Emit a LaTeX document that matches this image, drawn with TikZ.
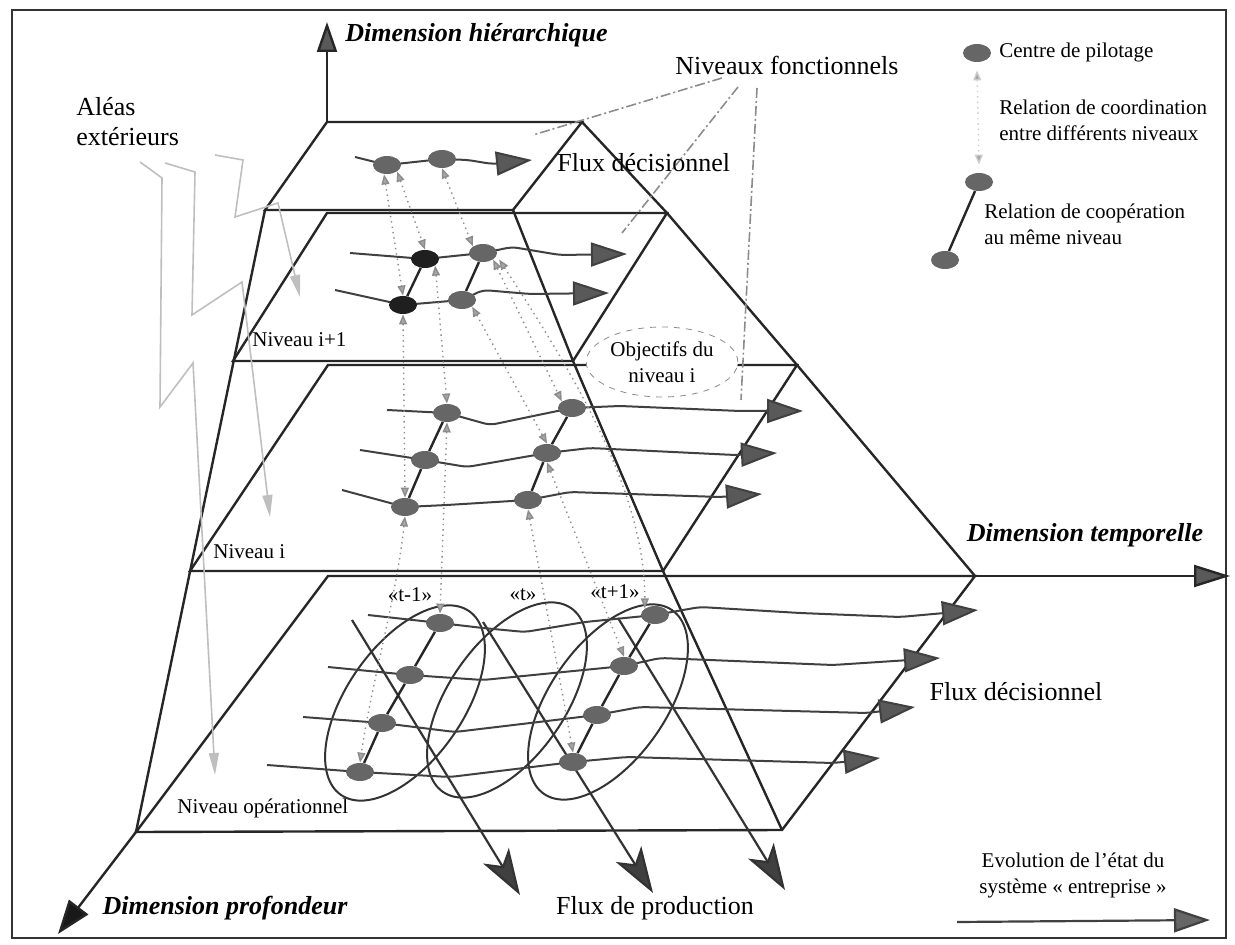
\documentclass[tikz,border=0pt]{standalone}
\usepackage{fontspec}
\setmainfont{Liberation Serif}
\usetikzlibrary{arrows.meta,shapes.geometric,backgrounds}

\begin{document}
\begin{tikzpicture}[x=0.5pt,y=-0.5pt,
  plane/.style={draw=black!85,line width=1.2pt},
  flux/.style={draw=black!75,line width=1pt,rounded corners=3pt,-{Triangle[length=18pt,width=12pt,fill=black!65]}},
  prod/.style={draw=black!80,line width=1.1pt,-{Stealth[length=23pt,width=15pt,inset=6pt,fill=black!75]}},
  pilot/.style={ellipse,fill=black!60,minimum width=14pt,minimum height=9pt,inner sep=0pt},
  pilotdark/.style={pilot,fill=black!88},
  coop/.style={draw=black!85,line width=1.2pt},
  coordrel/.style={draw=black!45,line width=0.7pt,dotted,
    {Triangle[length=5pt,width=4pt,fill=black!35]}-{Triangle[length=5pt,width=4pt,fill=black!35]}},
  alea/.style={draw=black!25,line width=0.8pt,-{Triangle[length=11pt,width=5pt,fill=black!25]}},
  pointer/.style={draw=black!45,line width=0.8pt,dash pattern=on 5pt off 1.5pt on 1pt off 1.5pt},
  lbl/.style={font=\fontsize{13}{15}\selectfont,inner sep=1pt},
  dimlbl/.style={font=\fontsize{13}{15}\selectfont\bfseries\itshape,inner sep=1pt},
  small/.style={font=\fontsize{10.5}{13}\selectfont,inner sep=1pt}]
\useasboundingbox (0,0) rectangle (1235,945);

% centres de pilotage
\foreach \n/\p in {A1/{387,165},A2/{442,159},B2/{483,253},B4/{462,300},
    C1/{447,413},C2/{572,408},C3/{425,460},C4/{547,453},C5/{405,507},C6/{528,500},
    D1/{440,623},D2/{655,615},D3/{410,675},D4/{624,666},
    D5/{382,723},D6/{597,715},D7/{360,772},D8/{573,762}}
  \node[pilot] (\n) at (\p) {};
\foreach \n/\p in {B1/{425,259},B3/{403,305}}
  \node[pilotdark] (\n) at (\p) {};

% ends of the flows
\foreach \n/\p in {a0/{355,157},a9/{532,160},b0/{350,253},b9/{627,254},
    bb0/{335,290},bb9/{609,293},c10/{387,410},c19/{803,411},c20/{360,450},c29/{777,453},
    c30/{342,490},c39/{762,494},d10/{368,615},d19/{978,610},d20/{328,667},d29/{940,658},
    d30/{303,717},d39/{915,707},d40/{267,765},d49/{880,758},
    p1s/{352,620},p1e/{520,895},p2s/{483,622},p2e/{653,893},p3s/{618,618},p3e/{785,890},
    ea1/{140,162},ez1/{215,775},ea2/{165,163},ez2/{270,517},ea3/{215,155},ez3/{300,297},
    nf1/{722,78},nt1/{533,135},nf2/{738,87},nt2/{622,233},nf3/{757,88},nt3/{741,400},
    ev0/{957,922},ev9/{1210,920}}
  \coordinate (\n) at (\p);

% labels
\node[dimlbl,anchor=west] (dh) at (343,35) {Dimension hiérarchique};
\node[dimlbl] (dt) at (1085,535) {Dimension temporelle};
\node[dimlbl] (dp) at (225,908) {Dimension profondeur};
\node[lbl] (nf) at (787,65) {Niveaux fonctionnels};
\node[lbl,anchor=west] (fd1) at (555,163) {Flux décisionnel};
\node[lbl] (fd2) at (1016,692) {Flux décisionnel};
\node[lbl] (fp) at (655,908) {Flux de production};
\node[lbl,anchor=west,align=left] (al) at (74,122) {Aléas\\extérieurs};
\node[small,anchor=west] (ni1) at (250,340) {Niveau i+1};
\node[small,anchor=west] (ni) at (211,552) {Niveau i};
\node[small,anchor=west] (nop) at (175,808) {Niveau opérationnel};
\node[small] (tm) at (410,595) {«t-1»};
\node[small] (t0) at (523,595) {«t»};
\node[small] (tp) at (615,592) {«t+1»};
\node[small,ellipse,draw=black!45,dashed,fill=white,align=center,
  minimum width=70pt,minimum height=35pt] (obj) at (662,362) {Objectifs du\\niveau i};

% legend
\node[pilot] (L1) at (977,53) {};
\node[small,anchor=west] (lg1) at (997,52) {Centre de pilotage};
\node[small,anchor=west,align=left] (lg2) at (997,120) {Relation de coordination\\entre différents niveaux};
\node[pilot] (L2) at (979,182) {};
\node[pilot] (L3) at (945,260) {};
\node[small,anchor=west,align=left] (lg3) at (982,224) {Relation de coopération\\au même niveau};
\node[small,align=center] (ev) at (1073,875) {Evolution de l’état du\\système « entreprise »};

\begin{pgfonlayer}{background}
\draw[black!80,line width=0.8pt] (12,10) rectangle (1226,938);
% the four levels
\draw[plane] (327,122) -- (582,122) -- (513,210) -- (265,210) -- cycle;
\draw[plane] (327,213) -- (667,213) -- (573,361) -- (233,361) -- cycle;
\draw[plane] (328,365) -- (797,365) -- (663,571) -- (190,571) -- cycle;
\draw[plane] (328,576) -- (975,576) -- (782,830) -- (136,832) -- cycle;
\draw[plane] (265,210) -- (136,832);
\draw[plane] (582,122) -- (667,213) -- (797,365) -- (975,576);
\draw[plane] (513,210) -- (573,361) -- (663,571) -- (782,830);
% axes
\draw[plane,-{Triangle[length=15pt,width=10pt,fill=black!65]}] (327,122) -- (327,22);
\draw[plane,-{Triangle[length=18pt,width=11pt,fill=black!65]}] (975,576) -- (1230,576);
\draw[plane,-{Triangle[length=17pt,width=12pt,fill=black!90]}] (136,832) -- (58,934);
% time windows
\foreach \c in {{405,703},{507,700},{608,702}}
  \draw[black!80,line width=1pt,rotate around={55:(\c)}] (\c) ellipse [x radius=112,y radius=58];
% production flows
\draw[prod] (p1s) -- (p1e);
\draw[prod] (p2s) -- (p2e);
\draw[prod] (p3s) -- (p3e);
% decision flows
\draw[flux] (a0) -- (A1.center) -- (A2.center) -- (468,160) -- (492,164) -- (a9);
\draw[flux] (b0) -- (B1.center) -- (B2.center) -- (512,247) -- (560,255) -- (b9);
\draw[flux] (bb0) -- (B3.center) -- (B4.center) -- (483,290) -- (530,294) -- (bb9);
\draw[flux] (c10) -- (C1.center) -- (490,425) -- (C2.center) -- (620,406) -- (740,411) -- (c19);
\draw[flux] (c20) -- (C3.center) -- (467,467) -- (C4.center) -- (590,448) -- (735,455) -- (c29);
\draw[flux] (c30) -- (C5.center) -- (447,505) -- (C6.center) -- (570,492) -- (720,497) -- (c39);
\draw[flux] (d10) -- (D1.center) -- (483,628) -- (525,632) -- (585,622) -- (D2.center) -- (700,607) -- (800,613) -- (900,617) -- (d19);
\draw[flux] (d20) -- (D3.center) -- (483,680) -- (D4.center) -- (660,658) -- (833,665) -- (d29);
\draw[flux] (d30) -- (D5.center) -- (455,732) -- (D6.center) -- (640,707) -- (867,713) -- (d39);
\draw[flux] (d40) -- (D7.center) -- (450,777) -- (D8.center) -- (627,757) -- (833,763) -- (d49);
% cooperation
\draw[coop] (B1) -- (B3);
\draw[coop] (B2) -- (B4);
\draw[coop] (C1) -- (C3) -- (C5);
\draw[coop] (C2) -- (C4) -- (C6);
\draw[coop] (D1) -- (D3) -- (D5) -- (D7);
\draw[coop] (D2) -- (D4) -- (D6) -- (D8);
\draw[coop] (L2) -- (L3);
% coordination
\draw[coordrel] ([xshift=-1.5pt]A1.south) -- (B3.north);
\draw[coordrel] (A1.south east) -- (B1.north);
\draw[coordrel] (A2.south) -- (B2.north west);
\draw[coordrel] (B1.south east) -- (C1.north);
\draw[coordrel] (B3.south) -- (C5.north);
\draw[coordrel] (B2.south east) -- (C2.north west);
\draw[coordrel] (B4.south east) -- (C4.north);
\draw[coordrel] ([xshift=3pt]B2.south east) .. controls (585,390) and (645,500) .. (D2.north west);
\draw[coordrel] (C1.south) -- (D1.north);
\draw[coordrel] (C5.south) .. controls (396,600) and (372,680) .. (D7.north);
\draw[coordrel] (C6.south) .. controls (545,600) and (560,680) .. (D8.north);
\draw[coordrel] (C4.south) -- (D4.north);
\draw[coordrel,draw=black!20] ([yshift=-4pt]L1.south) -- ([yshift=4pt]L2.north);
% external hazards
\draw[alea] (ea1) -- (162,178) -- (160,407) -- (193,363) -- (ez1);
\draw[alea] (ea2) -- (195,172) -- (192,315) -- (242,282) -- (ez2);
\draw[alea] (ea3) -- (243,160) -- (235,217) -- (278,203) -- (ez3);
% functional levels
\draw[pointer] (nf1) -- (nt1);
\draw[pointer] (nf2) -- (nt2);
\draw[pointer] (nf3) -- (nt3);
% state evolution
\draw[draw=black!75,line width=1.1pt,-{Triangle[length=18pt,width=12pt,fill=black!60]}] (ev0) -- (ev9);
\end{pgfonlayer}
\end{tikzpicture}
\end{document}
